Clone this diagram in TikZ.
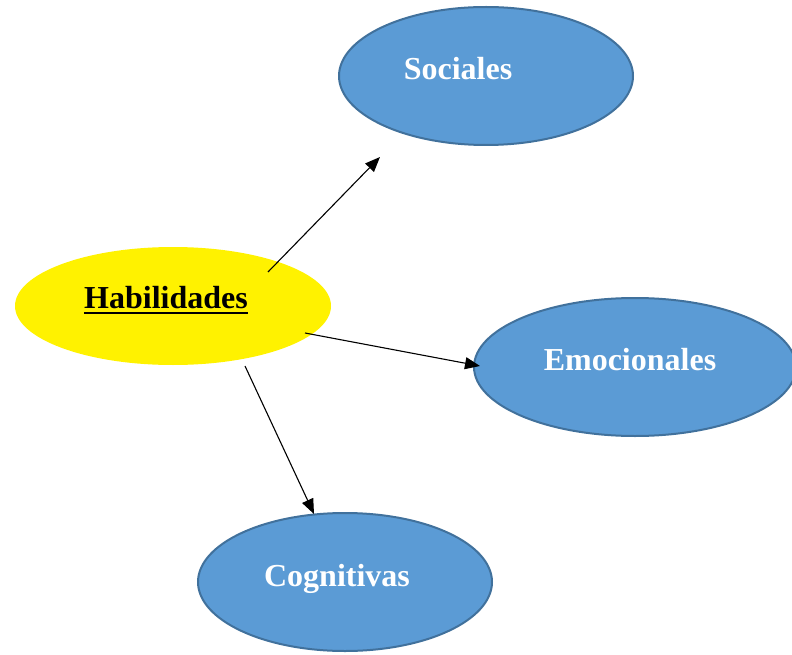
\documentclass[tikz,border=0pt]{standalone}
\usepackage{fontspec}
\setmainfont{Liberation Serif}
\usetikzlibrary{shapes.geometric,arrows.meta}
\definecolor{bluefill}{HTML}{5B9BD5}
\definecolor{blueline}{HTML}{41719C}
\tikzset{
  blueell/.style={ellipse, fill=bluefill, draw=blueline, line width=2pt, inner sep=0pt},
  yellowell/.style={ellipse, fill=yellow, inner sep=0pt},
  lbl/.style={font=\bfseries\fontsize{32}{36}\selectfont, text=white, inner sep=0pt, anchor=base},
  arr/.style={line width=1.1pt, -{Triangle[length=15pt,width=12pt]}}
}
\begin{document}
\begin{tikzpicture}[x=1pt,y=-1pt]
\useasboundingbox (0,0) rectangle (792,655);
% ellipses
\node[yellowell, minimum width=316pt, minimum height=118pt] (hab) at (173,306) {};
\node[blueell, minimum width=294pt, minimum height=138pt] (soc) at (486,76) {};
\node[blueell, minimum width=322pt, minimum height=138pt] (emo) at (635,367) {};
\node[blueell, minimum width=294pt, minimum height=138pt] (cog) at (345,582) {};
% labels
\node[lbl, text=black] (habt) at (166,308) {Habilidades};
\draw[line width=2.6pt] ([yshift=-5pt]habt.base west) -- ([yshift=-5pt]habt.base east);
\node[lbl] (soct) at (458,80) {Sociales};
\node[lbl] (emot) at (630,370) {Emocionales};
\node[lbl] (cogt) at (337,586) {Cognitivas};
% arrow endpoints
\coordinate (a1s) at (268,272);
\coordinate (a1e) at (380,157);
\coordinate (a2s) at (305,333);
\coordinate (a2e) at (480,366);
\coordinate (a3s) at (245,366);
\coordinate (a3e) at (314,514);
\draw[arr] (a1s) -- (a1e);
\draw[arr] (a2s) -- (a2e);
\draw[arr] (a3s) -- (a3e);
\end{tikzpicture}
\end{document}
